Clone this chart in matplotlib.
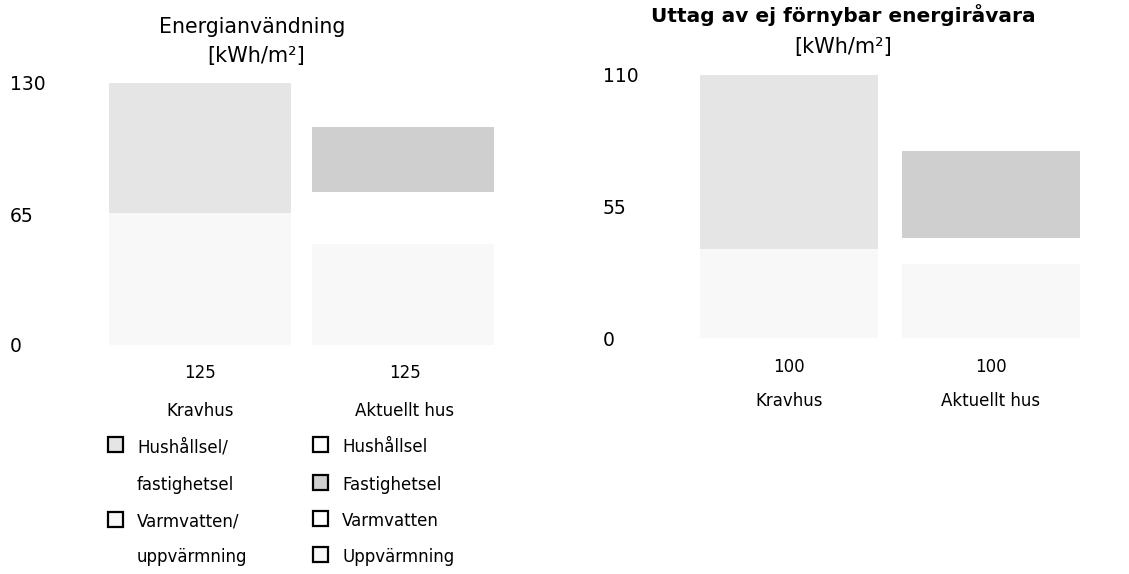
import numpy as np
import matplotlib
matplotlib.use("Agg")
import matplotlib.pyplot as plt
from matplotlib.patches import Rectangle

# ---------------- data ----------------
categories = ["Kravhus", "Aktuellt hus"]

# Energianvändning [kWh/m²]
energy_krav = {"Varmvatten/uppvärmning": 63, "Hushållsel/fastighetsel": 62}
energy_akt = {"Uppvärmning": 48, "Varmvatten": 25, "Fastighetsel": 31, "Hushållsel": 21}
energy_ticklabels = ["0", "65", "130"]

# Uttag av ej förnybar energiråvara [kWh/m²]
primary_krav = {"Varmvatten/uppvärmning": 34, "Hushållsel/fastighetsel": 66}
primary_akt = {"Uppvärmning": 28, "Varmvatten": 10, "Fastighetsel": 33, "Hushållsel": 29}
primary_ticklabels = ["0", "55", "110"]

legend_krav = ["Hushållsel/\nfastighetsel", "Varmvatten/\nuppvärmning"]
legend_akt = ["Hushållsel", "Fastighetsel", "Varmvatten", "Uppvärmning"]

# ---------------- styles ----------------
COL = {
    "Hushållsel/fastighetsel": "#e5e5e5",
    "Varmvatten/uppvärmning": "#f8f8f8",
    "Hushållsel": "#ffffff",
    "Fastighetsel": "#cfcfcf",
    "Varmvatten": "#ffffff",
    "Uppvärmning": "#f8f8f8",
}

W, H = 1129, 574
fig = plt.figure(figsize=(W / 100, H / 100), dpi=100)
fig.patch.set_facecolor("white")


def fx(x):
    return x / W


def fy(y):
    return 1 - y / H


def add_axes(left, right, top, bottom):
    return fig.add_axes([fx(left), fy(bottom), (right - left) / W, (bottom - top) / H])


def draw_stack(ax, krav, akt, width, ticklabels, label_x, axes_left):
    x = np.arange(len(categories))
    b = 0
    for key, val in krav.items():
        ax.bar(x[0], val, width, bottom=b, color=COL[key], linewidth=0)
        b += val
    b = 0
    for key, val in akt.items():
        ax.bar(x[1], val, width, bottom=b, color=COL[key], linewidth=0)
        b += val
    ymax = max(sum(krav.values()), sum(akt.values()))
    ax.set_ylim(0, ymax)
    ax.set_xlim(-0.5, 1.5)
    ax.set_xticks([])
    ax.set_yticks(np.linspace(0, ymax, len(ticklabels)), labels=ticklabels)
    ax.tick_params(axis="y", length=0, pad=(axes_left - label_x) * 0.72, labelsize=13.5)
    for t in ax.get_yticklabels():
        t.set_ha("left")
    for s in ax.spines.values():
        s.set_visible(False)
    return [sum(krav.values()), sum(akt.values())]


# ---------- left chart ----------
axL = add_axes(98.5, 504.5, 83, 345)
totL = draw_stack(axL, energy_krav, energy_akt, 0.895, energy_ticklabels, 10, 98.5)

fig.text(fx(252), fy(33), "Energianvändning", ha="center", va="baseline", fontsize=14.8)
fig.text(fx(256), fy(62), "[kWh/m²]", ha="center", va="baseline", fontsize=15)

for cx, tot, cat in zip([200, 405], totL, categories):
    fig.text(fx(cx), fy(378), f"{tot}", ha="center", va="baseline", fontsize=12)
    fig.text(fx(cx), fy(416), cat, ha="center", va="baseline", fontsize=12)

# ---------- right chart ----------
axR = add_axes(688, 1092, 75, 338)
totR = draw_stack(axR, primary_krav, primary_akt, 0.88, primary_ticklabels, 603, 688)

fig.text(fx(843), fy(22), "Uttag av ej förnybar energiråvara", ha="center", va="baseline",
         fontsize=14.5, fontweight="bold")
fig.text(fx(843), fy(53), "[kWh/m²]", ha="center", va="baseline", fontsize=15)

for cx, tot, cat in zip([789, 991], totR, categories):
    fig.text(fx(cx), fy(372), f"{tot}", ha="center", va="baseline", fontsize=12)
    fig.text(fx(cx), fy(406), cat, ha="center", va="baseline", fontsize=12)

# ---------- legends ----------
def legend_box(x, y_base, color):
    size = 15
    fig.patches.append(Rectangle((fx(x), fy(y_base)), size / W, size / H,
                                 transform=fig.transFigure, facecolor=color,
                                 edgecolor="black", linewidth=1.6))


krav_keys = ["Hushållsel/fastighetsel", "Varmvatten/uppvärmning"]
krav_rows = [(452, 490), (527, 562)]
for key, lab, (b1, b2) in zip(krav_keys, legend_krav, krav_rows):
    legend_box(108, b1, COL[key])
    l1, l2 = lab.split("\n")
    fig.text(fx(137), fy(b1), l1, ha="left", va="baseline", fontsize=12)
    fig.text(fx(137), fy(b2), l2, ha="left", va="baseline", fontsize=12)

akt_rows = [452, 490, 526, 562]
for lab, yb in zip(legend_akt, akt_rows):
    legend_box(313, yb, COL[lab])
    fig.text(fx(342), fy(yb), lab, ha="left", va="baseline", fontsize=12)

fig.savefig("out.png", dpi=100, facecolor="white")
